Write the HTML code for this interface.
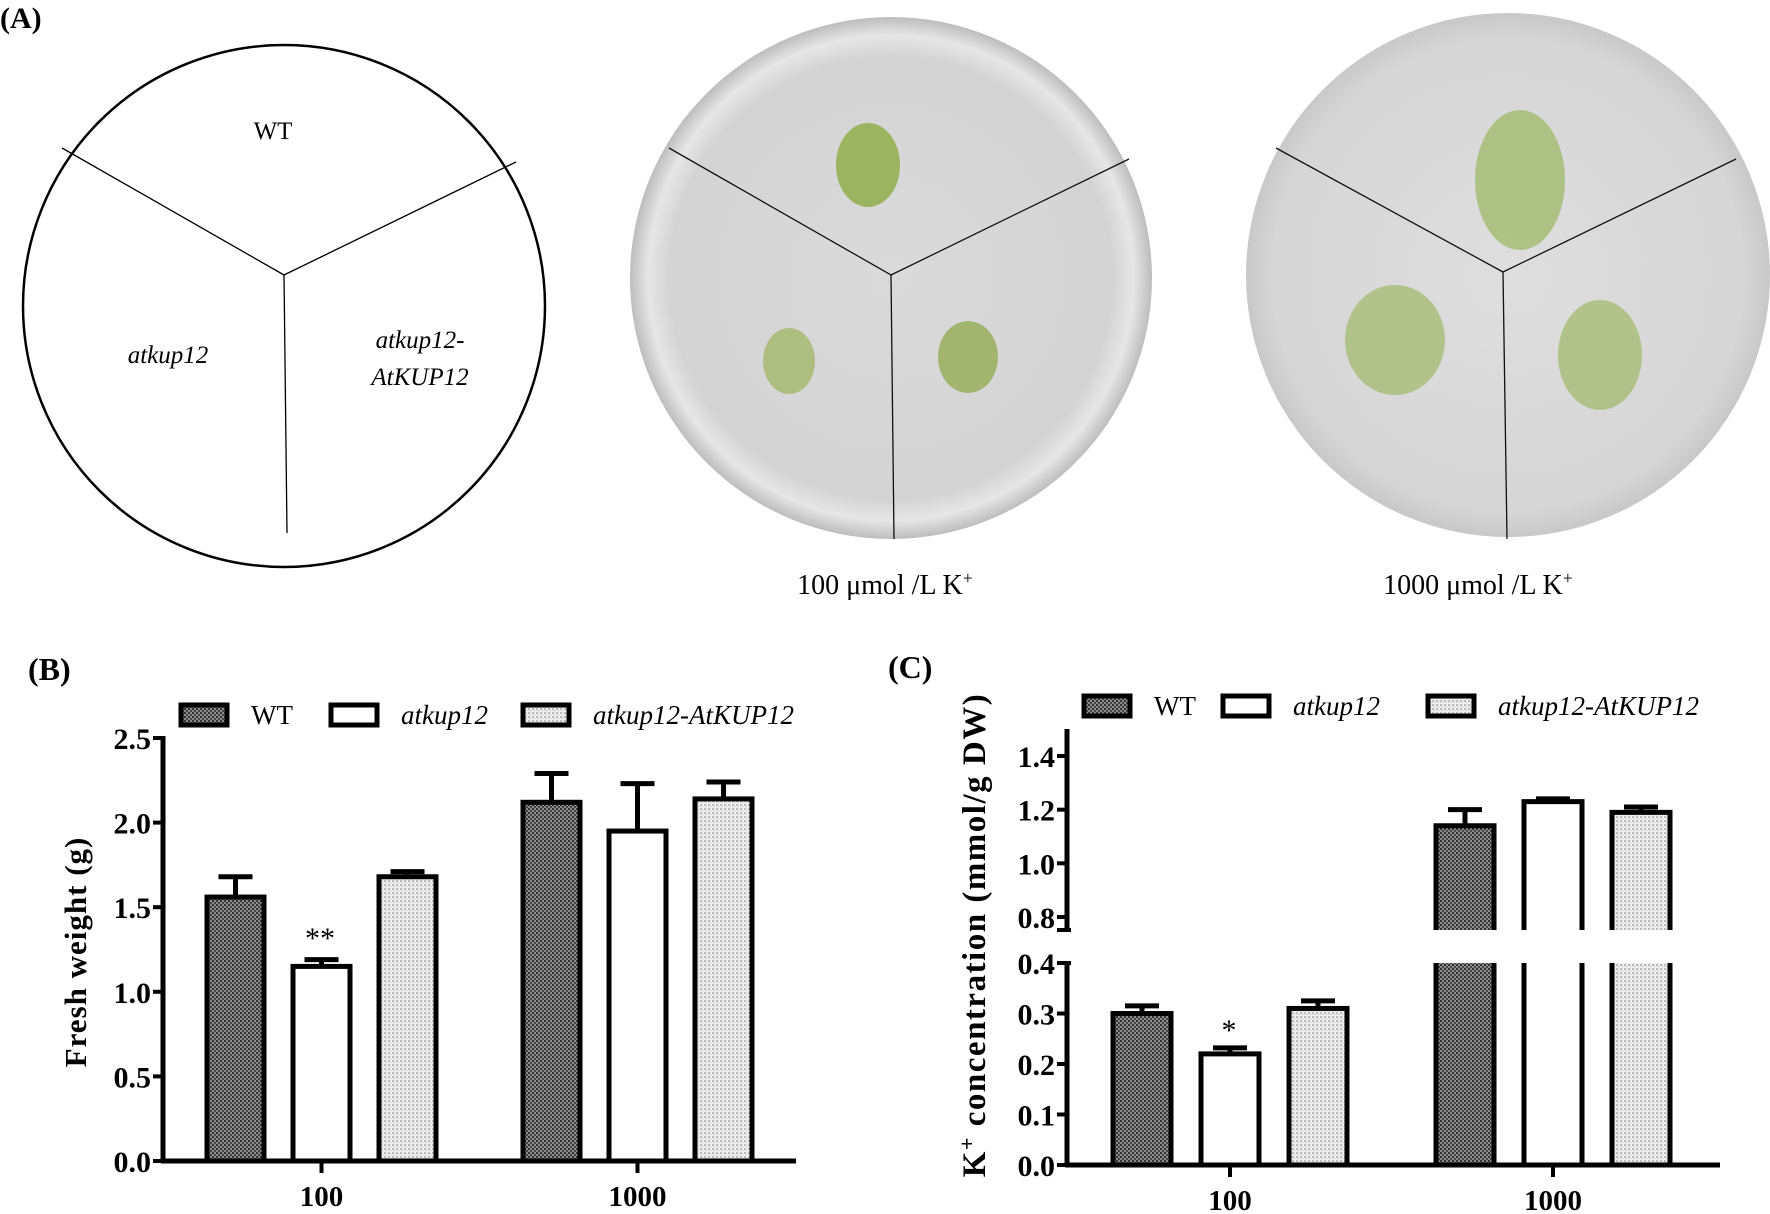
<!DOCTYPE html>
<html><head><meta charset="utf-8"><style>
body{margin:0;background:#fff}
svg{display:block}
text{font-family:"Liberation Serif",serif}
</style></head><body>
<svg id="fig" width="1770" height="1214" viewBox="0 0 1770 1214" xmlns="http://www.w3.org/2000/svg">
<defs>
<pattern id="pdark" width="4" height="4" patternUnits="userSpaceOnUse"><rect width="4" height="4" fill="#8a8a8a"/><rect width="2" height="2" fill="#333"/><rect x="2" y="2" width="2" height="2" fill="#444"/></pattern>
<pattern id="plight" width="4" height="4" patternUnits="userSpaceOnUse"><rect width="4" height="4" fill="#eee"/><rect width="2" height="2" fill="#bbb"/><rect x="2" y="2" width="1" height="1" fill="#c8c8c8"/></pattern>
<radialGradient id="plate1" cx="0.5" cy="0.5" r="0.5"><stop offset="0" stop-color="#dadada"/><stop offset="0.85" stop-color="#d4d4d4"/><stop offset="0.93" stop-color="#e6e6e6"/><stop offset="1" stop-color="#bdbdbd"/></radialGradient>
<radialGradient id="plate2" cx="0.5" cy="0.5" r="0.5"><stop offset="0" stop-color="#dedede"/><stop offset="0.9" stop-color="#d6d6d6"/><stop offset="1" stop-color="#c8c8c8"/></radialGradient>
</defs>
<!-- Panel A -->
<text x="0" y="28" font-size="30" font-weight="bold">(A)</text>
<g>
<circle cx="284" cy="306" r="261" fill="none" stroke="#000" stroke-width="2.5"/>
<line x1="284" y1="275" x2="62" y2="148" stroke="#000" stroke-width="1.3"/>
<line x1="284" y1="275" x2="516" y2="162" stroke="#000" stroke-width="1.3"/>
<line x1="284" y1="275" x2="287" y2="533" stroke="#000" stroke-width="1.3"/>
<text x="273" y="139" font-size="25" text-anchor="middle">WT</text>
<text x="168" y="363" font-size="25" font-style="italic" text-anchor="middle">atkup12</text>
<text x="420" y="348" font-size="25" font-style="italic" text-anchor="middle">atkup12-</text>
<text x="420" y="385" font-size="25" font-style="italic" text-anchor="middle">AtKUP12</text>
</g>
<g>
<circle cx="891" cy="278" r="261" fill="url(#plate1)"/>
<line x1="891" y1="275" x2="669" y2="148" stroke="#111" stroke-width="1.3"/>
<line x1="891" y1="275" x2="1129" y2="159" stroke="#111" stroke-width="1.3"/>
<line x1="891" y1="275" x2="894" y2="539" stroke="#111" stroke-width="1.3"/>
<ellipse cx="868" cy="165" rx="32" ry="42" fill="#8fae4a" opacity="0.85"/>
<ellipse cx="789" cy="361" rx="26" ry="33" fill="#a3b86a" opacity="0.8"/>
<ellipse cx="968" cy="357" rx="30" ry="36" fill="#93ad55" opacity="0.8"/>
</g>
<g>
<circle cx="1508" cy="275" r="262" fill="url(#plate2)"/>
<line x1="1503" y1="272" x2="1276" y2="148" stroke="#111" stroke-width="1.3"/>
<line x1="1503" y1="272" x2="1736" y2="159" stroke="#111" stroke-width="1.3"/>
<line x1="1503" y1="272" x2="1507" y2="539" stroke="#111" stroke-width="1.3"/>
<ellipse cx="1520" cy="180" rx="45" ry="70" fill="#9fb968" opacity="0.75"/>
<ellipse cx="1395" cy="340" rx="50" ry="55" fill="#9fb968" opacity="0.7"/>
<ellipse cx="1600" cy="355" rx="42" ry="55" fill="#9fb968" opacity="0.7"/>
</g>
<text x="885" y="594" font-size="28" text-anchor="middle">100 μmol /L K<tspan dy="-10" font-size="18">+</tspan></text>
<text x="1478" y="594" font-size="28" text-anchor="middle">1000 μmol /L K<tspan dy="-10" font-size="18">+</tspan></text>

<text x="28" y="680" font-size="32" font-weight="bold">(B)</text>
<text x="888" y="678" font-size="32" font-weight="bold">(C)</text>
<g id="chartB"></g>
<g id="chartC"></g>
</svg>
<script>
const series = ["WT", "atkup12", "atkup12-AtKUP12"];
const categories = ["100", "1000"];
const fwWT = [1.56, 2.12];
const fwMut = [1.15, 1.95];
const fwComp = [1.68, 2.14];
const fwErrWT = [0.12, 0.17];
const fwErrMut = [0.04, 0.28];
const fwErrComp = [0.03, 0.10];
const fwTicks = ["0.0","0.5","1.0","1.5","2.0","2.5"];
const kWT = [0.30, 1.14];
const kMut = [0.22, 1.23];
const kComp = [0.31, 1.19];
const kErrWT = [0.015, 0.06];
const kErrMut = [0.012, 0.01];
const kErrComp = [0.015, 0.02];
const kTicksLow = ["0.0","0.1","0.2","0.3","0.4"];
const kTicksHigh = ["0.8","1.0","1.2","1.4"];
const NS="http://www.w3.org/2000/svg";
function mk(parent,tag,attrs,txt){const e=document.createElementNS(NS,tag);for(const k in attrs)e.setAttribute(k,attrs[k]);if(txt!==undefined)e.textContent=txt;parent.appendChild(e);return e;}
const fills=["url(#pdark)","#fff","url(#plight)"];

function legend(g,y,xs){
  series.forEach((s,i)=>{
    const r=mk(g,'rect',{x:xs[i],y:y-10,width:46,height:20,fill:fills[i],stroke:'#000','stroke-width':5});
    
    
    const t=mk(g,'text',{x:xs[i]+70,y:y+9,'font-size':27,'font-style':i?'italic':'normal'},s);
    
    
  });
}
function bar(g,x0,x1,yTop,yBot,fill,name){
  const r=mk(g,'rect',{x:x0,y:yTop,width:x1-x0,height:yBot-yTop,fill:fill,stroke:'#000','stroke-width':5});
  
  
}
function errbar(g,xc,yv,ye,w){
  const l=mk(g,'path',{d:`M${xc},${yv}V${ye}M${xc-w/2},${ye}H${xc+w/2}`,stroke:'#000','stroke-width':5,fill:'none'});
  
  
}

(function(){
  const g=document.getElementById('chartB');
  const ax=163, y0=1161, yTop=738, xEnd=796, vmax=2.5;
  const yS=v=>y0-(v/vmax)*(y0-yTop);
  const groupStart=[207,523], bw=57, step=86;
  const vals=[fwWT,fwMut,fwComp], errs=[fwErrWT,fwErrMut,fwErrComp];
  legend(g,715,[181,331,523]);
  categories.forEach((c,ci)=>{
    series.forEach((s,si)=>{
      const x0=groupStart[ci]+si*step, v=vals[si][ci];
      errbar(g,x0+bw/2,yS(v),yS(v+errs[si][ci]),34);
      bar(g,x0,x0+bw,yS(v),y0,fills[si],'bar-b-'+c+'-'+si);
    });
    const xc=groupStart[ci]+step+bw/2;
    mk(g,'line',{x1:xc,y1:y0,x2:xc,y2:y0+12,stroke:'#000','stroke-width':4});
    const t=mk(g,'text',{x:xc,y:y0+45,'font-size':29,'font-weight':'bold','text-anchor':'middle'},c);
    
    
  });
  mk(g,'line',{x1:ax,y1:yTop-2,x2:ax,y2:y0+2,stroke:'#000','stroke-width':5});
  mk(g,'line',{x1:ax-2,y1:y0,x2:xEnd,y2:y0,stroke:'#000','stroke-width':5});
  fwTicks.forEach(tk=>{
    const y=yS(parseFloat(tk));
    mk(g,'line',{x1:ax-10,y1:y,x2:ax,y2:y,stroke:'#000','stroke-width':4});
    const t=mk(g,'text',{x:ax-12,y:y+11,'font-size':30,'font-weight':'bold','text-anchor':'end'},tk);
    
    
  });
  const s=mk(g,'text',{x:0,y:0,'font-size':31,'font-weight':'bold','text-anchor':'middle',transform:'translate(86,952) rotate(-90)','letter-spacing':'1'},'Fresh weight (g)');
  
  
  const st=mk(g,'text',{x:320,y:948,'font-size':30,'text-anchor':'middle'},'**');
  
  
})();

(function(){
  const g=document.getElementById('chartC');
  const ax=1067, y0=1165, yLowTop=963, lowMax=0.4;
  const y08=917, yHi14=756, yTop=729, yBreak=930;
  function yS(v){
    if(v<=lowMax) return y0-(v/lowMax)*(y0-yLowTop);
    return y08-(v-0.8)/(0.6)*(y08-yHi14);
  }
  const groupStart=[1113,1436], bw=58, step=88;
  const vals=[kWT,kMut,kComp], errs=[kErrWT,kErrMut,kErrComp];
  legend(g,706,[1084,1223,1428]);
  categories.forEach((c,ci)=>{
    series.forEach((s,si)=>{
      const x0=groupStart[ci]+si*step, v=vals[si][ci], ev=v+errs[si][ci];
      errbar(g,x0+bw/2,yS(v),yS(ev),34);
      if(v<=lowMax){
        bar(g,x0,x0+bw,yS(v),y0,fills[si],'bar-c-'+c+'-'+si);
      } else {
        const r1=mk(g,'path',{d:`M${x0},${yBreak}V${yS(v)}H${x0+bw}V${yBreak}`,fill:fills[si],stroke:'#000','stroke-width':5});
        
        
        const r2=mk(g,'path',{d:`M${x0},${yLowTop}V${y0}H${x0+bw}V${yLowTop}`,fill:fills[si],stroke:'#000','stroke-width':5});
        
        
      }
    });
    const xc=groupStart[ci]+step+bw/2;
    mk(g,'line',{x1:xc,y1:y0,x2:xc,y2:y0+12,stroke:'#000','stroke-width':4});
    const t=mk(g,'text',{x:xc,y:y0+45,'font-size':29,'font-weight':'bold','text-anchor':'middle'},c);
    
    
  });
  mk(g,'line',{x1:ax,y1:yTop,x2:ax,y2:yBreak,stroke:'#000','stroke-width':5});
  mk(g,'line',{x1:ax,y1:yLowTop,x2:ax,y2:y0+2,stroke:'#000','stroke-width':5});
  mk(g,'line',{x1:ax-10,y1:yBreak,x2:ax+4,y2:yBreak,stroke:'#000','stroke-width':4});
  mk(g,'line',{x1:ax-10,y1:yLowTop,x2:ax+4,y2:yLowTop,stroke:'#000','stroke-width':4});
  mk(g,'line',{x1:ax-2,y1:y0,x2:1720,y2:y0,stroke:'#000','stroke-width':5});
  kTicksLow.concat(kTicksHigh).forEach(tk=>{
    const y=yS(parseFloat(tk));
    mk(g,'line',{x1:ax-10,y1:y,x2:ax,y2:y,stroke:'#000','stroke-width':4});
    const t=mk(g,'text',{x:ax-12,y:y+11,'font-size':30,'font-weight':'bold','text-anchor':'end'},tk);
    
    
  });
  const s=mk(g,'text',{x:0,y:0,'font-size':33,'font-weight':'bold','text-anchor':'middle',transform:'translate(985,935) rotate(-90)','letter-spacing':'1.5'});
  s.innerHTML='K<tspan dy="-11" font-size="22">+</tspan><tspan dy="11"> concentration (mmol/g  DW)</tspan>';
  
  
  const st=mk(g,'text',{x:1229,y:1040,'font-size':30,'text-anchor':'middle'},'*');
  
  
})();
</script>
</body></html>
